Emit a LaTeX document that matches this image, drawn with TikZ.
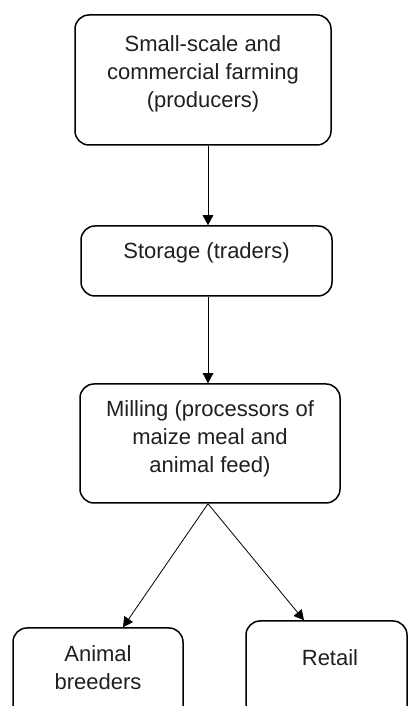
\documentclass[tikz,border=0pt]{standalone}
\usepackage{fontspec}
\setmainfont{Liberation Sans}
\usetikzlibrary{arrows.meta}
\begin{document}
\begin{tikzpicture}[x=1pt,y=1pt,
  box/.style={draw=black, line width=1.5pt, rounded corners=14pt, inner sep=0pt},
  txt/.style={font=\fontsize{22}{28}\selectfont, align=center, inner sep=0pt, text=black!88},
  arr/.style={line width=0.8pt, -{Triangle[length=10pt,width=10.5pt]}}]
\useasboundingbox (0,0) rectangle (408,706);
\clip (0,0) rectangle (408,706);
% boxes
\node[box, minimum width=256pt, minimum height=130pt] (b1) at (203,626) {};
\node[box, minimum width=251pt, minimum height=70pt] (b2) at (206.5,445) {};
\node[box, minimum width=260pt, minimum height=119pt] (b3) at (210,262.5) {};
\node[box, minimum width=170pt, minimum height=112pt] (b4) at (98,22) {};
\node[box, minimum width=161pt, minimum height=119pt] (b5) at (326.5,25.5) {};
% texts
\node[txt] (t1) at (203,632) {Small-scale and\\commercial farming\\(producers)};
\node[txt] (t2) at (206.5,453) {Storage (traders)};
\node[txt] (t3) at (210,267) {Milling (processors of\\maize meal and\\animal feed)};
\node[txt] (t4) at (98,38) {Animal\\breeders};
\node[txt] (t5) at (330,48) {Retail};
% connectors
\coordinate (spine) at (208,0);
\coordinate (ab) at (123,0);
\coordinate (rt) at (304,0);
\draw[arr] (b1.south -| spine) -- (b2.north -| spine);
\draw[arr] (b2.south -| spine) -- (b3.north -| spine);
\draw[arr] (b3.south -| spine) -- (b4.north -| ab);
\draw[arr] (b3.south -| spine) -- (b5.north -| rt);
\end{tikzpicture}
\end{document}
